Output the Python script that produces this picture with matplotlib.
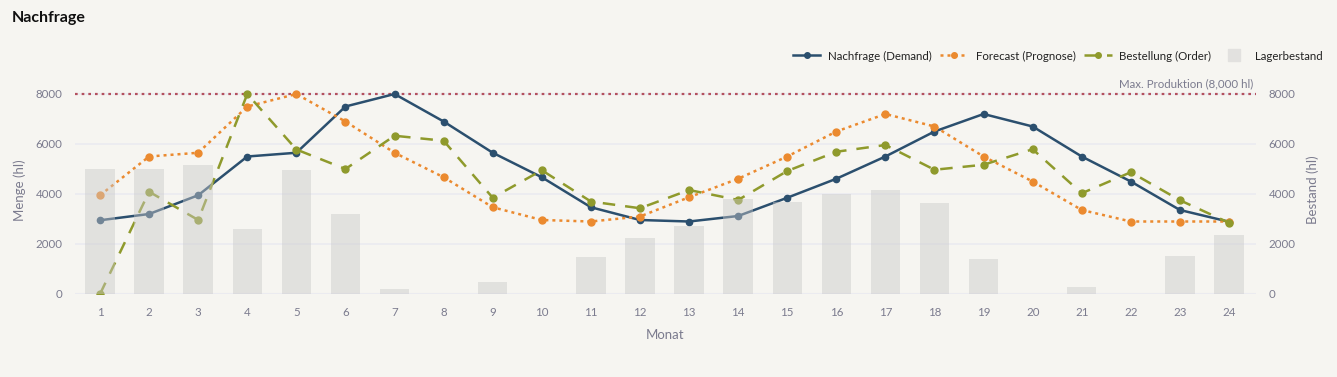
import matplotlib
matplotlib.use("Agg")
import matplotlib.pyplot as plt
from matplotlib.lines import Line2D

months = list(range(1, 25))
demand = [2950, 3200, 3950, 5500, 5650, 7500, 8000, 6900, 5650, 4670, 3470, 2960,
          2900, 3120, 3850, 4610, 5500, 6500, 7200, 6700, 5500, 4500, 3360, 2890]
forecast = [3950, 5500, 5650, 7500, 8000, 6900, 5650, 4670, 3470, 2960, 2900, 3100,
            3870, 4610, 5500, 6500, 7200, 6700, 5500, 4500, 3360, 2900, 2900, 2900]
order = [0, 4090, 2960, 8000, 5780, 5000, 6330, 6130, 3850, 4950, 3700, 3430,
         4160, 3760, 4920, 5690, 5960, 4970, 5170, 5790, 4030, 4870, 3750, 2850]
inventory = [5000, 5000, 5150, 2600, 4950, 3210, 210, 0, 480, 0, 1480, 2230,
             2730, 3800, 3680, 4000, 4170, 3630, 1390, 0, 280, 0, 1520, 2350]
max_prod = 8000
yticks = [0, 2000, 4000, 6000, 8000]

BG = "#f6f5f1"
C_DEM = "#2b4f6e"
C_FC = "#eb8a2f"
C_ORD = "#8f9a2c"
C_MAX = "#b3505e"
C_TXT = "#7b7b8e"
C_GRID = "#ebebf0"

plt.rcParams['font.family'] = ['Lato', 'DejaVu Sans']

W, H = 1337, 377
fig = plt.figure(figsize=(W / 100, H / 100), dpi=100, facecolor=BG)
L, R, B, T = 75, 1256, 294, 86
ax = fig.add_axes([L / W, 1 - B / H, (R - L) / W, (B - T) / H])
ax.set_facecolor(BG)
ymax = (B - T) / 25 * 1000
ax.set_ylim(0, ymax)
ax.set_xlim(0.49, 24.55)

for yv in yticks:
    ax.axhline(yv, color=C_GRID, lw=1.2 if yv else 1.5, zorder=0)

ax.plot(months, demand, color=C_DEM, lw=1.8, marker='o', ms=4.5, zorder=3)
ax.plot(months, forecast, color=C_FC, lw=1.8, ls=(0, (1.2, 1.6)), marker='o', ms=5, zorder=3)
ax.plot(months, order, color=C_ORD, lw=1.8, ls=(0, (5, 4)), marker='o', ms=5, zorder=3)
ax.axhline(max_prod, color=C_MAX, lw=1.6, ls=(0, (1.2, 1.8)), zorder=2)
ax.bar(months, inventory, width=0.6, color="#c9c9c9", alpha=0.45, zorder=4, lw=0)

ax.text(24.5, max_prod + 180, "Max. Produktion (8,000 hl)", ha='right', va='bottom',
        color=C_TXT, fontsize=8.3)

for s in ax.spines.values():
    s.set_visible(False)
ax.set_xticks(months)
ax.set_xticklabels([str(m) for m in months])
ax.set_yticks(yticks)
ax.set_yticklabels([str(v) for v in yticks])
ax.tick_params(length=0, colors=C_TXT, labelsize=8.3)
ax.tick_params(axis='x', pad=9)
ax.tick_params(axis='y', pad=9)
ax.set_xlabel("Monat", color=C_TXT, fontsize=9.5, labelpad=8)
ax.set_ylabel("Menge (hl)", color=C_TXT, fontsize=9.5, labelpad=7)

ax2 = ax.twinx()
ax2.set_ylim(0, ymax)
ax2.set_yticks(yticks)
ax2.set_yticklabels([str(v) for v in yticks])
ax2.tick_params(length=0, colors=C_TXT, labelsize=8.3, pad=9)
for s in ax2.spines.values():
    s.set_visible(False)
ax2.set_ylabel("Bestand (hl)", color=C_TXT, fontsize=9.5, labelpad=8)

fig.text(12 / W, 1 - 18 / H, "Nachfrage", fontsize=11.5, fontweight='bold',
         color="#111111", va='center', ha='left')

handles = [
    Line2D([], [], color=C_DEM, lw=1.8, marker='o', ms=4),
    Line2D([], [], color=C_FC, lw=1.8, ls=(0, (1.2, 1.6)), marker='o', ms=4),
    Line2D([], [], color=C_ORD, lw=1.8, ls=(0, (5, 4)), marker='o', ms=4),
    Line2D([], [], color="#e2e1df", ls='none', marker='s', ms=9),
]
labels = ["Nachfrage (Demand)", "Forecast (Prognose)", "Bestellung (Order)", "Lagerbestand"]
fig.legend(handles, labels, ncol=4, loc='center right', bbox_to_anchor=(1333 / W, 1 - 56 / H),
           frameon=False, fontsize=8.3, handlelength=2.4, columnspacing=0.75,
           handletextpad=0.65, labelcolor="#222222")

fig.savefig("out.png", dpi=100, facecolor=BG)
